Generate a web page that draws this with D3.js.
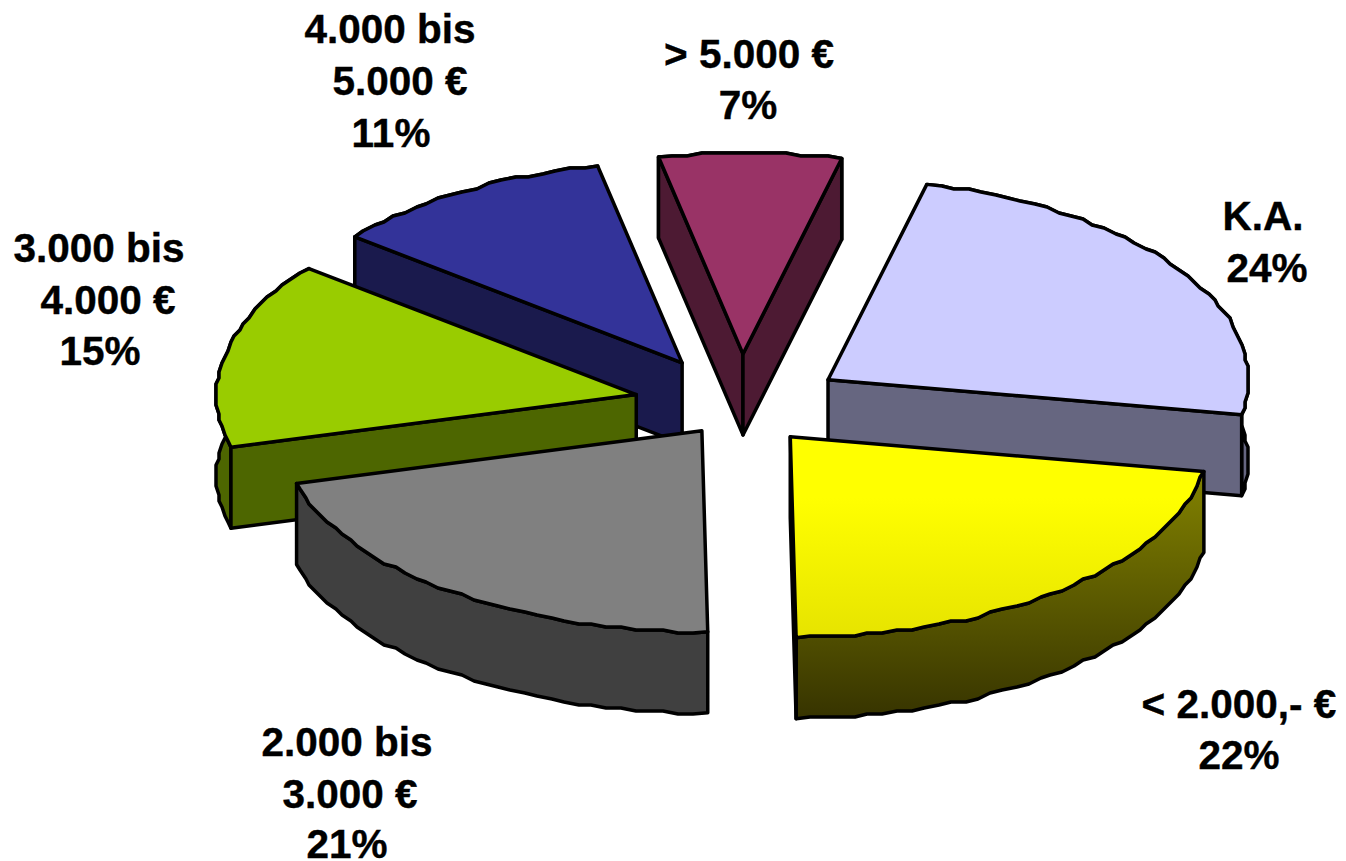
<!DOCTYPE html>
<html>
<head>
<meta charset="utf-8">
<script src="https://d3js.org/d3.v7.min.js"></script>
<style>
  html, body { margin: 0; padding: 0; background: #fff; }
  svg { display: block; }
  text { font-family: "Liberation Sans", Arial, sans-serif; font-weight: bold; font-size: 40.5px; fill: #000; stroke: #000; stroke-width: 0.4px; }
</style>
</head>
<body>
<div id="chart-container"></div>
<script>
// Data, clockwise from the K.A. slice
var categories = ["K.A.", "< 2.000,- €", "2.000 bis 3.000 €", "3.000 bis 4.000 €", "4.000 bis 5.000 €", "> 5.000 €"];
var shares = [24, 22, 21, 15, 11, 7];
var labelLines = [
  ["K.A.", "24%"],
  ["< 2.000,- €", "22%"],
  ["2.000 bis", "3.000 €", "21%"],
  ["3.000 bis", "4.000 €", "15%"],
  ["4.000 bis", "5.000 €", "11%"],
  ["> 5.000 €", "7%"]
];

// Layout and colours per slice
var explode = [104, 76, 65, 107, 113, 113];
var nudgeY = [-1, 1, -2, -3, 1, 0]; // slices don't sit exactly on the explode line
var topColors = ["#ccccff", "url(#yellowTop)", "#808080", "#99cc00", "#333399", "#993366"];
var sideColors = ["#666680", "url(#yellowSide)", "#404040", "#4d6600", "#1a1a4d", "#4d1a33"];
var labelX = [[1263, 1267], [1239, 1239], [347, 350, 347], [99, 108, 100], [390, 400, 391], [749, 748]];
var labelY = [[230, 282], [718, 769], [756, 808, 858], [262, 314, 365], [43, 95, 147], [68, 119]];
var drawOrder = [5, 4, 0, 3, 2, 1];

var width = 1346, height = 861;
var centerX = 741, centerY = 408, depth = 81, jag = 3, radiusX = 420, radiusY = 201;

var svg = d3.select("#chart-container")
  .append("svg")
  .attr("width", width)
  .attr("height", height);

var defs = svg.append("defs");

function addGradient(id, y1, y2, stops) {
  var g = defs.append("linearGradient")
    .attr("id", id)
    .attr("gradientUnits", "userSpaceOnUse")
    .attr("x1", 0).attr("x2", 0)
    .attr("y1", y1).attr("y2", y2);
  stops.forEach(function(s) {
    g.append("stop").attr("offset", s[0]).attr("stop-color", s[1]);
  });
}
addGradient("yellowTop", 437, 640, [[0, "#ffff00"], [0.3, "#ffff00"], [1, "#e6e300"]]);
addGradient("yellowSide", 480, 720, [[0, "#808000"], [1, "#363300"]]);

// Ellipse scales: unit circle to tilted pie
var x = d3.scaleLinear().domain([-1, 1]).range([-radiusX, radiusX]);
var y = d3.scaleLinear().domain([-1, 1]).range([-radiusY, radiusY]);

var pie = d3.pie()
  .sort(null)
  .startAngle(13.6 * Math.PI / 180)
  .endAngle((360 + 13.6) * Math.PI / 180);

var slices = pie(shares);
var line = d3.line();

function rimPoint(a, ox, oy) {
  return [ox + x(Math.sin(a)), oy + y(-Math.cos(a))];
}

// The rim is a bit rough in the original, so snap it to a coarse grid
function rim(d, ox, oy) {
  var pts = [];
  var n = Math.ceil((d.endAngle - d.startAngle) / 0.035);
  for (var i = 0; i <= n; i++) {
    var p = rimPoint(d.startAngle + (d.endAngle - d.startAngle) * i / n, ox, oy);
    if (i > 0 && i < n) {
      p = [Math.round(p[0] / jag) * jag, Math.round(p[1] / jag) * jag];
    }
    pts.push(p);
  }
  return pts;
}

function down(p) { return [p[0], p[1] + depth]; }

function drawFace(pts, fill) {
  svg.append("path")
    .attr("d", line(pts) + "Z")
    .attr("fill", fill)
    .attr("stroke", "#000")
    .attr("stroke-width", 3.5)
    .attr("stroke-linejoin", "round");
}

drawOrder.forEach(function(i) {
  var d = slices[i];
  var mid = (d.startAngle + d.endAngle) / 2;
  var ox = centerX + (x(Math.sin(mid)) / radiusX) * explode[i];
  var oy = centerY + (y(-Math.cos(mid)) / radiusX) * explode[i] + nudgeY[i];
  var apex = [ox, oy];
  var edge = rim(d, ox, oy);
  var first = edge[0], last = edge[edge.length - 1];

  drawFace(edge.concat(edge.map(down).reverse()), sideColors[i]);
  // only the radial walls that face the viewer
  if (Math.sin(d.startAngle) < 0) drawFace([apex, first, down(first), down(apex)], sideColors[i]);
  if (Math.sin(d.endAngle) > 0) drawFace([apex, last, down(last), down(apex)], sideColors[i]);
  drawFace([apex].concat(edge), topColors[i]);
});

// Labels
labelLines.forEach(function(lines, i) {
  lines.forEach(function(t, j) {
    svg.append("text")
      .attr("x", labelX[i][j])
      .attr("y", labelY[i][j])
      .attr("text-anchor", "middle")
      .text(t);
  });
});
</script>
</body>
</html>
